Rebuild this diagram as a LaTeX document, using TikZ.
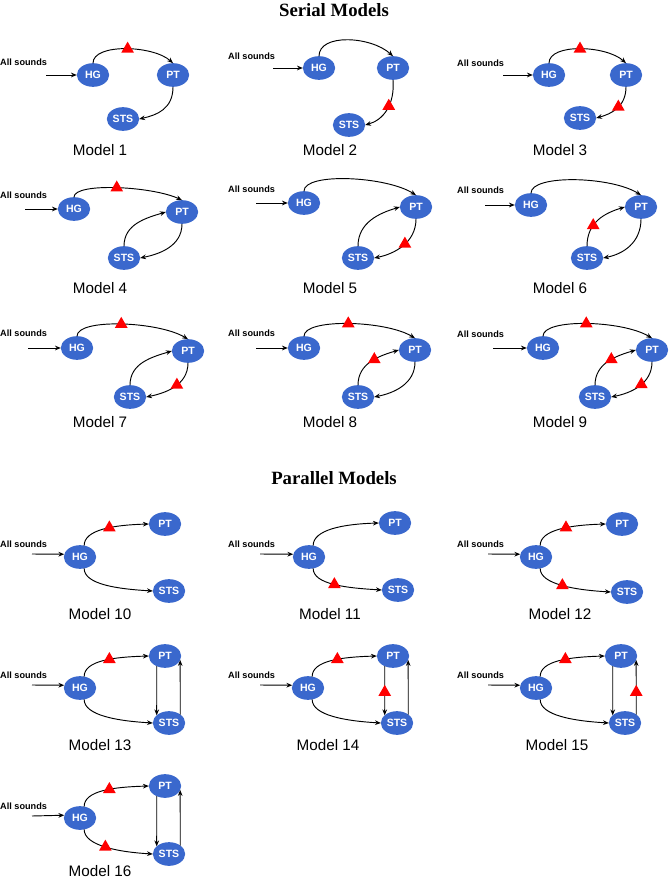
\documentclass[tikz,border=0pt]{standalone}
\usepackage{fontspec}
\setmainfont{Liberation Serif}
\setsansfont{Liberation Sans}
\usetikzlibrary{shapes.geometric, arrows.meta}
\definecolor{areablue}{RGB}{58,104,205}

\begin{document}
\begin{tikzpicture}[x=0.03cm, y=-0.03cm,
    area/.style={ellipse, fill=areablue, text=white, inner sep=0pt, outer sep=0pt, minimum width=0.97cm, minimum height=0.71cm, font=\sffamily\bfseries\fontsize{9}{10}\selectfont},
    tri/.style={regular polygon, regular polygon sides=3, fill=red, inner sep=0pt, minimum size=0.44cm},
    link/.style={-{Stealth[length=5pt, width=4pt]}, line width=0.8pt},
    sound/.style={anchor=west, inner sep=0pt, font=\sffamily\bfseries\fontsize{7.8}{9}\selectfont},
    mlabel/.style={font=\sffamily\fontsize{13}{15}\selectfont},
    header/.style={font=\bfseries\fontsize{16}{19}\selectfont},
]
\useasboundingbox (0,0) rectangle (669,881);

\node[header] (serial) at (334,10) {Serial Models};

% Model 1
\node[sound] (snd1) at (0,62) {All sounds};
\coordinate (in1) at (46,75);
\node[area] (hg1) at (93,75) {HG};
\node[area] (pt1) at (173,75) {PT};
\node[area] (sts1) at (123,119) {STS};
\draw[link] (in1) -- (hg1.west);
\draw[link] (hg1.north) .. controls +(0,-20) and +(-20,-18) .. (pt1.north) node[tri, pos=0.52] {};
\draw[link] (pt1.south) .. controls +(0,22) and +(18,-4) .. (sts1.east);
\node[mlabel] (m1) at (100,150) {Model 1};

% Model 2
\node[sound] (snd2) at (228,56) {All sounds};
\coordinate (in2) at (273,68);
\node[area] (hg2) at (319,68) {HG};
\node[area] (pt2) at (393,68) {PT};
\node[area] (sts2) at (349,125) {STS};
\draw[link] (in2) -- (hg2.west);
\draw[link] (hg2.north) .. controls +(0,-23) and +(-22,-20) .. (pt2.north);
\draw[link] (pt2.south) .. controls +(2,25) and +(18,-5) .. (sts2.east) node[tri, pos=0.42] {};
\node[mlabel] (m2) at (330,150) {Model 2};

% Model 3
\node[sound] (snd3) at (457,63) {All sounds};
\coordinate (in3) at (503,75);
\node[area] (hg3) at (549,75) {HG};
\node[area] (pt3) at (626,75) {PT};
\node[area] (sts3) at (580,118) {STS};
\draw[link] (in3) -- (hg3.west);
\draw[link] (hg3.north) .. controls +(0,-20) and +(-20,-18) .. (pt3.north) node[tri, pos=0.5] {};
\draw[link] (pt3.south) .. controls +(0,20) and +(15,-4) .. (sts3.east) node[tri, pos=0.45] {};
\node[mlabel] (m3) at (560,150) {Model 3};

% Model 4
\node[sound] (snd4) at (0,195) {All sounds};
\coordinate (in4) at (25,209);
\node[area] (hg4) at (74,209) {HG};
\node[area] (pt4) at (182,212) {PT};
\node[area] (sts4) at (124,258) {STS};
\draw[link] (in4) -- (hg4.west);
\draw[link] (hg4.north) .. controls +(0,-15) and +(-30,-14) .. (pt4.north) node[tri, pos=0.5] {};
\draw[link] (sts4.north) .. controls +(0,-22) and +(-20,6) .. (pt4.west);
\draw[link] (pt4.south) .. controls +(0,22) and +(20,-4) .. (sts4.east);
\node[mlabel] (m4) at (100,288) {Model 4};

% Model 5
\node[sound] (snd5) at (228,189) {All sounds};
\coordinate (in5) at (256,203);
\node[area] (hg5) at (304,203) {HG};
\node[area] (pt5) at (416,207) {PT};
\node[area] (sts5) at (358,258) {STS};
\draw[link] (in5) -- (hg5.west);
\draw[link] (hg5.north) .. controls +(0,-19) and +(-30,-19) .. (pt5.north);
\draw[link] (sts5.north) .. controls +(0,-24) and +(-20,6) .. (pt5.west);
\draw[link] (pt5.south) .. controls +(0,24) and +(20,-4) .. (sts5.east) node[tri, pos=0.45] {};
\node[mlabel] (m5) at (330,288) {Model 5};

% Model 6
\node[sound] (snd6) at (457,190) {All sounds};
\coordinate (in6) at (485,205);
\node[area] (hg6) at (531,205) {HG};
\node[area] (pt6) at (641,207) {PT};
\node[area] (sts6) at (587,258) {STS};
\draw[link] (in6) -- (hg6.west);
\draw[link] (hg6.north) .. controls +(0,-19) and +(-30,-19) .. (pt6.north);
\draw[link] (sts6.north) .. controls +(0,-24) and +(-20,6) .. (pt6.west) node[tri, pos=0.36] {};
\draw[link] (pt6.south) .. controls +(0,24) and +(20,-4) .. (sts6.east);
\node[mlabel] (m6) at (560,288) {Model 6};

% Model 7
\node[sound] (snd7) at (0,333) {All sounds};
\coordinate (in7) at (28,348);
\node[area] (hg7) at (77,348) {HG};
\node[area] (pt7) at (188,351) {PT};
\node[area] (sts7) at (130,397) {STS};
\draw[link] (in7) -- (hg7.west);
\draw[link] (hg7.north) .. controls +(0,-18) and +(-30,-18) .. (pt7.north) node[tri, pos=0.5] {};
\draw[link] (sts7.north) .. controls +(0,-22) and +(-20,6) .. (pt7.west);
\draw[link] (pt7.south) .. controls +(0,22) and +(20,-4) .. (sts7.east) node[tri, pos=0.45] {};
\node[mlabel] (m7) at (100,422) {Model 7};

% Model 8
\node[sound] (snd8) at (228,333) {All sounds};
\coordinate (in8) at (256,348);
\node[area] (hg8) at (304,348) {HG};
\node[area] (pt8) at (415,350) {PT};
\node[area] (sts8) at (358,397) {STS};
\draw[link] (in8) -- (hg8.west);
\draw[link] (hg8.north) .. controls +(0,-18) and +(-30,-18) .. (pt8.north) node[tri, pos=0.5] {};
\draw[link] (sts8.north) .. controls +(0,-22) and +(-20,6) .. (pt8.west) node[tri, pos=0.57] {};
\draw[link] (pt8.south) .. controls +(0,22) and +(20,-4) .. (sts8.east);
\node[mlabel] (m8) at (330,422) {Model 8};

% Model 9
\node[sound] (snd9) at (457,334) {All sounds};
\coordinate (in9) at (493,348);
\node[area] (hg9) at (543,348) {HG};
\node[area] (pt9) at (652,350) {PT};
\node[area] (sts9) at (595,397) {STS};
\draw[link] (in9) -- (hg9.west);
\draw[link] (hg9.north) .. controls +(0,-18) and +(-30,-18) .. (pt9.north) node[tri, pos=0.5] {};
\draw[link] (sts9.north) .. controls +(0,-22) and +(-20,6) .. (pt9.west) node[tri, pos=0.57] {};
\draw[link] (pt9.south) .. controls +(0,22) and +(20,-4) .. (sts9.east) node[tri, pos=0.45] {};
\node[mlabel] (m9) at (560,422) {Model 9};

\node[header] (parallel) at (334,478) {Parallel Models};

% Model 10
\node[sound] (snd10) at (0,544) {All sounds};
\coordinate (in10) at (32,554);
\node[area] (hg10) at (80,557) {HG};
\node[area] (pt10) at (165,524) {PT};
\node[area] (sts10) at (169,591) {STS};
\draw[link] (in10) -- (hg10.170);
\draw[link] (hg10.70) .. controls +(0,-16) and +(-35,1) .. (pt10.west) node[tri, pos=0.58] {};
\draw[link] (hg10.-70) .. controls +(0,16) and +(-35,-2) .. (sts10.west);
\node[mlabel] (m10) at (100,614) {Model 10};

% Model 11
\node[sound] (snd11) at (228,544) {All sounds};
\coordinate (in11) at (260,554);
\node[area] (hg11) at (309,557) {HG};
\node[area] (pt11) at (395,523) {PT};
\node[area] (sts11) at (398,590) {STS};
\draw[link] (in11) -- (hg11.170);
\draw[link] (hg11.70) .. controls +(0,-16) and +(-35,1) .. (pt11.west);
\draw[link] (hg11.-70) .. controls +(0,16) and +(-35,-2) .. (sts11.west) node[tri, pos=0.5] {};
\node[mlabel] (m11) at (330,614) {Model 11};

% Model 12
\node[sound] (snd12) at (457,544) {All sounds};
\coordinate (in12) at (488,554);
\node[area] (hg12) at (536,557) {HG};
\node[area] (pt12) at (622,524) {PT};
\node[area] (sts12) at (627,592) {STS};
\draw[link] (in12) -- (hg12.170);
\draw[link] (hg12.70) .. controls +(0,-16) and +(-35,1) .. (pt12.west) node[tri, pos=0.58] {};
\draw[link] (hg12.-70) .. controls +(0,16) and +(-35,-2) .. (sts12.west) node[tri, pos=0.5] {};
\node[mlabel] (m12) at (560,614) {Model 12};

% Model 13
\node[sound] (snd13) at (0,675) {All sounds};
\coordinate (in13) at (32,685);
\node[area] (hg13) at (80,688) {HG};
\node[area] (pt13) at (165,656) {PT};
\node[area] (sts13) at (169,723) {STS};
\draw[link] (in13) -- (hg13.170);
\draw[link] (hg13.70) .. controls +(0,-16) and +(-35,1) .. (pt13.west) node[tri, pos=0.58] {};
\draw[link] (hg13.-70) .. controls +(0,16) and +(-35,-2) .. (sts13.west);
\draw[link] (pt13.231) -- (sts13.148);
\draw[link] (sts13.37) -- (pt13.-15);
\node[mlabel] (m13) at (100,745) {Model 13};

% Model 14
\node[sound] (snd14) at (228,675) {All sounds};
\coordinate (in14) at (260,685);
\node[area] (hg14) at (308,688) {HG};
\node[area] (pt14) at (393,656) {PT};
\node[area] (sts14) at (397,723) {STS};
\draw[link] (in14) -- (hg14.170);
\draw[link] (hg14.70) .. controls +(0,-16) and +(-35,1) .. (pt14.west) node[tri, pos=0.58] {};
\draw[link] (hg14.-70) .. controls +(0,16) and +(-35,-2) .. (sts14.west);
\draw[link] (pt14.231) -- (sts14.148) node[tri, pos=0.53] {};
\draw[link] (sts14.37) -- (pt14.-15);
\node[mlabel] (m14) at (328,745) {Model 14};

% Model 15
\node[sound] (snd15) at (457,675) {All sounds};
\coordinate (in15) at (488,685);
\node[area] (hg15) at (536,688) {HG};
\node[area] (pt15) at (621,656) {PT};
\node[area] (sts15) at (625,723) {STS};
\draw[link] (in15) -- (hg15.170);
\draw[link] (hg15.70) .. controls +(0,-16) and +(-35,1) .. (pt15.west) node[tri, pos=0.58] {};
\draw[link] (hg15.-70) .. controls +(0,16) and +(-35,-2) .. (sts15.west);
\draw[link] (pt15.231) -- (sts15.148);
\draw[link] (sts15.37) -- (pt15.-15) node[tri, pos=0.41] {};
\node[mlabel] (m15) at (557,745) {Model 15};

% Model 16
\node[sound] (snd16) at (0,806) {All sounds};
\coordinate (in16) at (32,816);
\node[area] (hg16) at (80,818) {HG};
\node[area] (pt16) at (165,786) {PT};
\node[area] (sts16) at (169,854) {STS};
\draw[link] (in16) -- (hg16.170);
\draw[link] (hg16.70) .. controls +(0,-16) and +(-35,1) .. (pt16.west) node[tri, pos=0.58] {};
\draw[link] (hg16.-70) .. controls +(0,16) and +(-35,-2) .. (sts16.west) node[tri, pos=0.5] {};
\draw[link] (pt16.231) -- (sts16.148);
\draw[link] (sts16.37) -- (pt16.-15);
\node[mlabel] (m16) at (100,871) {Model 16};
\end{tikzpicture}
\end{document}
